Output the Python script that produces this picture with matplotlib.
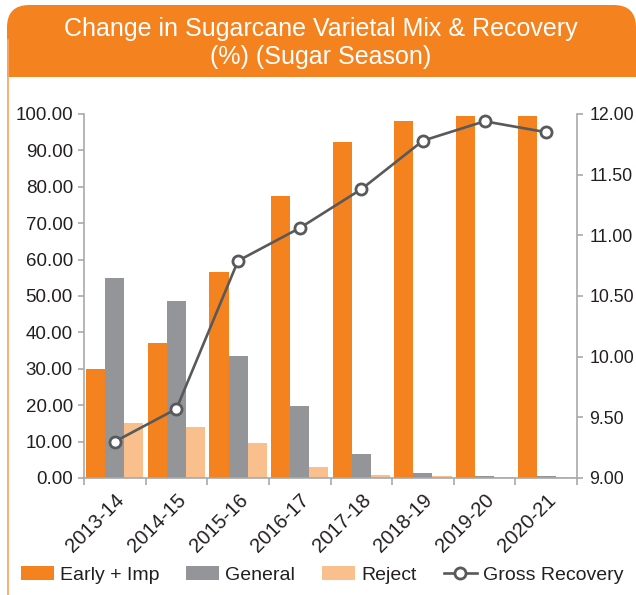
import numpy as np
import matplotlib.pyplot as plt
from matplotlib.patches import FancyBboxPatch, Rectangle
from matplotlib.lines import Line2D
from matplotlib.ticker import FormatStrFormatter, MultipleLocator
from matplotlib.transforms import ScaledTranslation

plt.rcParams["font.family"] = ["Liberation Sans", "DejaVu Sans"]

seasons = ["2013-14", "2014-15", "2015-16", "2016-17",
           "2017-18", "2018-19", "2019-20", "2020-21"]
early_imp = [29.9, 37.1, 56.6, 77.6, 92.3, 98.1, 99.5, 99.5]
general = [55.0, 48.6, 33.5, 19.8, 6.6, 1.4, 0.6, 0.6]
reject = [15.1, 14.1, 9.7, 3.0, 0.8, 0.5, 0.4, 0.4]
gross_recovery = [9.30, 9.57, 10.79, 11.06, 11.38, 11.78, 11.94, 11.85]

ORANGE = "#F4831F"
GREY = "#939598"
PEACH = "#F9BF8D"
LINE = "#58595B"
AXIS = "#A7A9AC"
TEXT = "#231F20"

W, H = 636, 595
fig = plt.figure(figsize=(W / 100, H / 100), dpi=100)

# header band: rounded top corners, square bottom edge
fig.patches.append(FancyBboxPatch((7 / W, (H - 77) / H), (W - 7) / W, 72 / H,
                                  boxstyle="round,pad=0,rounding_size=0.035",
                                  transform=fig.transFigure, facecolor=ORANGE,
                                  edgecolor="none", mutation_aspect=W / H))
fig.patches.append(Rectangle((7 / W, (H - 77) / H), (W - 7) / W, 30 / H,
                             transform=fig.transFigure, facecolor=ORANGE,
                             edgecolor="none"))
# thin frame line down the left side
fig.lines.append(Line2D([7.5 / W, 7.5 / W], [0, (H - 40) / H],
                        transform=fig.transFigure, color="#F6A86A", lw=1.3))

fig.text(321 / W, 1 - 29 / H, "Change in Sugarcane Varietal Mix & Recovery",
         ha="center", va="center", color="white", fontsize=18)
fig.text(321 / W, 1 - 57 / H, "(%) (Sugar Season)",
         ha="center", va="center", color="white", fontsize=18)

ax = fig.add_axes([84 / W, 1 - 478 / H, (577 - 84) / W, (478 - 114) / H])
x = np.arange(len(seasons))
bw = 0.31
b1 = ax.bar(x - bw, early_imp, bw, color=ORANGE, label="Early + Imp", zorder=2)
b2 = ax.bar(x, general, bw, color=GREY, label="General", zorder=2)
b3 = ax.bar(x + bw, reject, bw, color=PEACH, label="Reject", zorder=2)

ax.set_xlim(-0.5, len(seasons) - 0.5)
ax.set_ylim(0, 100)
ax.yaxis.set_major_locator(MultipleLocator(10))
ax.yaxis.set_major_formatter(FormatStrFormatter("%.2f"))
ax.set_xticks(x)
ax.set_xticklabels(seasons, rotation=45, ha="right", rotation_mode="anchor")
shift = ScaledTranslation(6 / 100, 0, fig.dpi_scale_trans)
for lbl in ax.get_xticklabels():
    lbl.set_transform(lbl.get_transform() + shift)
ax.set_xticks(np.arange(len(seasons) + 1) - 0.5, minor=True)
ax.tick_params(axis="x", which="major", length=0, pad=9, labelsize=14.5, labelcolor=TEXT)
ax.tick_params(axis="x", which="minor", length=5, color=AXIS, width=1.2)
ax.tick_params(axis="y", length=4, color=AXIS, width=1.2, pad=4,
               labelsize=13.5, labelcolor=TEXT)
for side in ["top", "right"]:
    ax.spines[side].set_visible(False)
for side in ["left", "bottom"]:
    ax.spines[side].set_color(AXIS)
    ax.spines[side].set_linewidth(1.2)

ax2 = ax.twinx()
ln, = ax2.plot(x, gross_recovery, color=LINE, lw=1.9, marker="o", ms=8,
               mfc="white", mec=LINE, mew=2, label="Gross Recovery", zorder=3)
ax2.set_ylim(9, 12)
ax2.yaxis.set_major_locator(MultipleLocator(0.5))
ax2.yaxis.set_major_formatter(FormatStrFormatter("%.2f"))
ax2.tick_params(axis="y", length=4, color=AXIS, width=1.2, pad=5,
                labelsize=12.8, labelcolor=TEXT)
for side in ["top", "left", "bottom"]:
    ax2.spines[side].set_visible(False)
ax2.spines["right"].set_color(AXIS)
ax2.spines["right"].set_linewidth(1.2)

fig.legend(handles=[b1, b2, b3, ln], loc="center", ncol=4,
           bbox_to_anchor=(322 / W, 1 - 575 / H), frameon=False,
           fontsize=14, handlelength=1.7, handleheight=0.7,
           columnspacing=1.4, handletextpad=0.3, labelcolor=TEXT)

fig.savefig("out.png", dpi=100)
